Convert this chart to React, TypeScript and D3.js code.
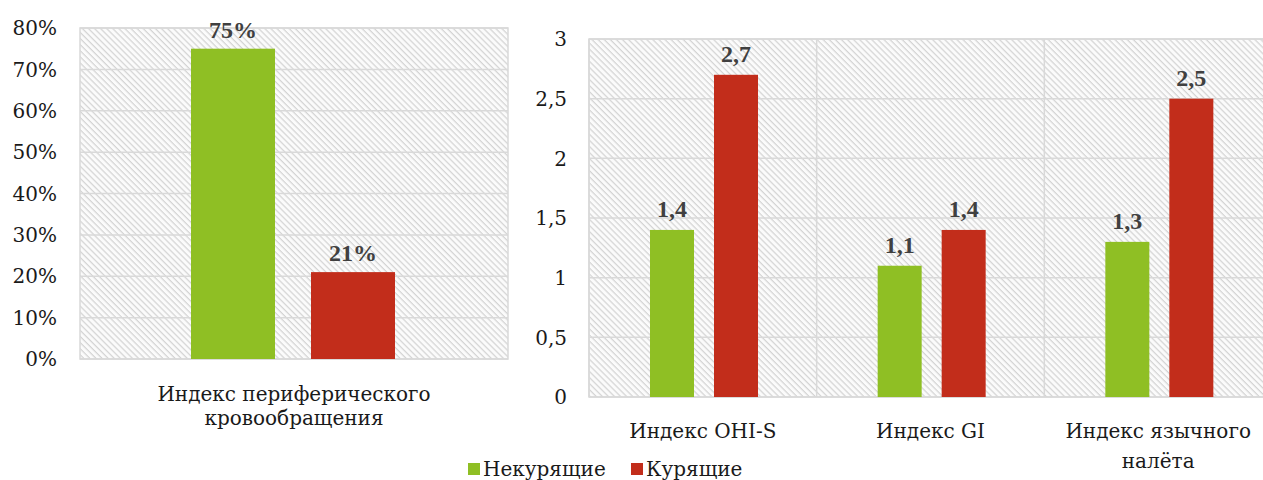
import React from "react";
import * as d3 from "d3";

const seriesNames = ["Некурящие", "Курящие"];
const seriesColors = ["#8fbf24", "#c22d1b"];

const leftCategories = [["Индекс периферического", "кровообращения"]];
const leftNonSmokers = [0.75];
const leftSmokers = [0.21];
const leftLabels = [["75%", "21%"]];
const leftTicks = [0, 0.1, 0.2, 0.3, 0.4, 0.5, 0.6, 0.7, 0.8];

const rightCategories = [["Индекс OHI-S"], ["Индекс GI"], ["Индекс язычного", "налёта"]];
const rightNonSmokers = [1.4, 1.1, 1.3];
const rightSmokers = [2.7, 1.4, 2.5];
const rightTicks = [0, 0.5, 1, 1.5, 2, 2.5, 3];

const W = 1263;
const H = 480;
const FONT_BOLD = "Liberation Serif, Times New Roman, serif";
const FONT = "DejaVu Serif, serif";
const GRID = "#d9d9d9";
const fmtComma = (v: number) => String(v).replace(".", ",");

const txt: React.CSSProperties = { fontFamily: FONT };
const txtB: React.CSSProperties = { fontFamily: FONT_BOLD };
const FS = 20;

export default function App() {
  // LEFT CHART
  const lTop = 28, lBottom = 359, lLeft = 80, lRight = 508;
  const ly = d3.scaleLinear().domain([0, 0.8]).range([lBottom, lTop]);
  const lx = d3.scaleBand<number>().domain(leftCategories.map((_, i) => i)).range([lLeft, lRight]).padding(0);
  const lInner = d3.scaleBand<number>().domain([0, 1]).range([111, 315]).paddingInner(0.3).paddingOuter(0);
  const leftSeries = [leftNonSmokers, leftSmokers];

  // RIGHT CHART
  const rTop = 39, rBottom = 397, rLeft = 589, rRight = 1272;
  const ry = d3.scaleLinear().domain([0, 3]).range([rBottom, rTop]);
  const rx = d3.scaleBand<number>().domain(rightCategories.map((_, i) => i)).range([rLeft, rRight]).padding(0);
  const rInner = d3.scaleBand<number>().domain([0, 1]).range([61, 169]).paddingInner(0.3125).paddingOuter(0);
  const rightSeries = [rightNonSmokers, rightSmokers];

  return (
    <svg
      width={W}
      height={H}
      style={{ position: "absolute", left: 0, top: 0, display: "block", background: "#ffffff" }}
    >
      <defs>
        <pattern id="hatch" patternUnits="userSpaceOnUse" width="4.3" height="4.3" patternTransform="rotate(45)">
          <rect width="4.3" height="4.3" fill="#fbfbfb" />
          <line x1="0" y1="0.6" x2="4.3" y2="0.6" stroke="#d4d4d4" strokeWidth="1.3" />
        </pattern>
      </defs>

      {/* Left plot */}
      <rect x={lLeft} y={lTop} width={lRight - lLeft} height={lBottom - lTop} fill="url(#hatch)" />
      {leftTicks.map((t) => (
        <line key={"lg" + t} x1={lLeft} x2={lRight} y1={ly(t)} y2={ly(t)} stroke={GRID} strokeWidth={1.5} />
      ))}
      <rect x={lLeft} y={lTop} width={lRight - lLeft} height={lBottom - lTop} fill="none" stroke={GRID} strokeWidth={1.5} />
      {leftTicks.map((t) => (
        <text key={"lt" + t} style={txt} x={57} y={ly(t)} dy="0.36em" textAnchor="end" fontSize={FS} fill="#1a1a1a">
          {Math.round(t * 100) + "%"}
        </text>
      ))}
      {leftCategories.map((cat, ci) => (
        <g key={"lc" + ci}>
          {leftSeries.map((s, si) => {
            const x = (lx(ci) as number) + (lInner(si) as number);
            return (
              <g key={si}>
                <rect x={x} y={ly(s[ci])} width={lInner.bandwidth()} height={lBottom - ly(s[ci])} fill={seriesColors[si]} />
                <text style={txtB} x={x + lInner.bandwidth() / 2} y={ly(s[ci]) - 11} textAnchor="middle" fontSize={24} fontWeight="bold" fill="#404040">
                  {leftLabels[ci][si]}
                </text>
              </g>
            );
          })}
          {cat.map((line, li) => (
            <text key={li} style={txt} x={(lx(ci) as number) + lx.bandwidth() / 2} y={401 + li * 24} textAnchor="middle" fontSize={FS} fill="#1a1a1a">
              {line}
            </text>
          ))}
        </g>
      ))}

      {/* Right plot */}
      <rect x={rLeft} y={rTop} width={rRight - rLeft} height={rBottom - rTop} fill="url(#hatch)" />
      {rightTicks.map((t) => (
        <line key={"rg" + t} x1={rLeft} x2={rRight} y1={ry(t)} y2={ry(t)} stroke={GRID} strokeWidth={1.5} />
      ))}
      {rightCategories.map((_, ci) => (
        <line key={"rv" + ci} x1={rx(ci) as number} x2={rx(ci) as number} y1={rTop} y2={rBottom} stroke={GRID} strokeWidth={1.5} />
      ))}
      <rect x={rLeft} y={rTop} width={rRight - rLeft} height={rBottom - rTop} fill="none" stroke={GRID} strokeWidth={1.5} />
      {rightTicks.map((t) => (
        <text key={"rt" + t} style={txt} x={567} y={ry(t)} dy="0.36em" textAnchor="end" fontSize={FS} fill="#1a1a1a">
          {fmtComma(t)}
        </text>
      ))}
      {rightCategories.map((cat, ci) => (
        <g key={"rc" + ci}>
          {rightSeries.map((s, si) => {
            const x = (rx(ci) as number) + (rInner(si) as number);
            return (
              <g key={si}>
                <rect x={x} y={ry(s[ci])} width={rInner.bandwidth()} height={rBottom - ry(s[ci])} fill={seriesColors[si]} />
                <text style={txtB} x={x + rInner.bandwidth() / 2} y={ry(s[ci]) - 13} textAnchor="middle" fontSize={24} fontWeight="bold" fill="#404040">
                  {fmtComma(s[ci])}
                </text>
              </g>
            );
          })}
          {cat.map((line, li) => (
            <text key={li} style={txt} x={(rx(ci) as number) + rx.bandwidth() / 2} y={438 + li * 30} textAnchor="middle" fontSize={FS} fill="#1a1a1a">
              {line}
            </text>
          ))}
        </g>
      ))}

      {/* Legend */}
      {seriesNames.map((name, i) => {
        const x0 = [468, 631][i];
        return (
          <g key={"lg" + i}>
            <rect x={x0} y={463} width={12} height={12} fill={seriesColors[i]} />
            <text style={txt} x={x0 + 15} y={476} fontSize={FS} fill="#1a1a1a">
              {name}
            </text>
          </g>
        );
      })}
    </svg>
  );
}
